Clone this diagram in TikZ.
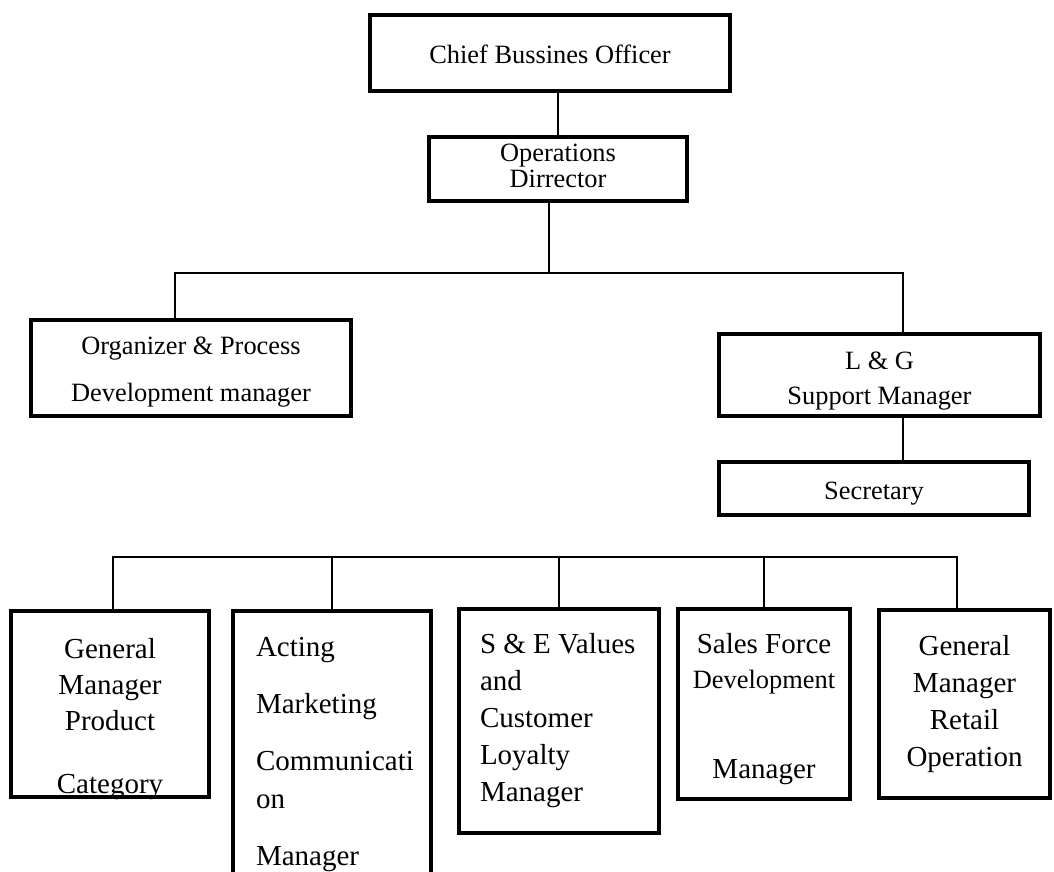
\documentclass[tikz,border=0pt]{standalone}
\usepackage{fontspec}
\setmainfont{Liberation Serif}

\tikzset{
	post/.style={draw, line width=4pt, inner sep=0pt},
	link/.style={line width=1.2pt},
}

\begin{document}
\begin{tikzpicture}[x=1pt, y=-1pt]
			\useasboundingbox (0,0) rectangle (1054,872);
			\clip (0,0) rectangle (1054,872);
			
			\node[post] (cbo) at (550,53) {\parbox[c][76pt][t]{360pt}{\centering\fontsize{26.4}{26}\selectfont\vspace*{30pt}Chief Bussines Officer}};
			\node[post] (od) at (558,169) {\parbox[c][64pt][t]{258pt}{\centering\fontsize{26.4}{26}\selectfont\vspace*{7pt}Operations\\Dirrector}};
			\node[post] (opd) at (191,368) {\parbox[c][96pt][t]{320pt}{\centering\fontsize{26.4}{47}\selectfont\vspace*{17pt}Organizer \& Process\\Development manager}};
			\node[post] (lgs) at (879.5,375) {\parbox[c][82pt][t]{321pt}{\centering\fontsize{26.4}{35}\selectfont\vspace*{18pt}L \& G\\Support Manager}};
			\node[post] (sec) at (874,488.5) {\parbox[c][53pt][t]{310pt}{\centering\fontsize{26.4}{30}\selectfont\vspace*{20pt}Secretary}};
			
			\node[post] (gmpc) at (110,704) {\parbox[c][186pt][t]{198pt}{\centering\fontsize{29}{36}\selectfont\vspace*{27pt}General\\Manager\\Product\\[27pt]Category}};
			\node[post] (amc) at (332,754.5) {\parbox[c][287pt][t]{198pt}{\raggedright\leftskip=23pt\fontsize{29}{38}\selectfont\vspace*{26pt}Acting\\[19pt]Marketing\\[19pt]Communicati\\on\\[19pt]Manager}};
			\node[post] (sev) at (559,721) {\parbox[c][224pt][t]{200pt}{\raggedright\leftskip=21pt\fontsize{29}{37}\selectfont\vspace*{24pt}S \& E Values\\and\\Customer\\Loyalty\\Manager}};
			\node[post] (sfd) at (764,704) {\parbox[c][190pt][t]{172pt}{\centering\fontsize{29}{35}\selectfont\vspace*{24pt}Sales Force\\{\fontsize{26.4}{35}\selectfont Development}\\[55pt]Manager}};
			\node[post] (gmro) at (964.5,704) {\parbox[c][188pt][t]{171pt}{\centering\fontsize{29}{37}\selectfont\vspace*{25pt}General\\Manager\\Retail\\Operation}};
			
			\coordinate (jl) at (175,273);
			\coordinate (jm) at (549,273);
			\coordinate (jr) at (903,273);
			\coordinate (bl) at (113,557);
			\coordinate (br) at (957,557);
			
			\draw[link] (od.north) -- (od.north |- cbo.south);
			\draw[link] (od.south -| jm) -- (jm);
			\draw[link] (opd.north -| jl) -- (jl) -- (jr) -- (lgs.north -| jr);
			\draw[link] (lgs.south -| jr) -- (sec.north -| jr);
			\draw[link] (gmpc.north -| bl) -- (bl) -- (br) -- (gmro.north -| br);
			\draw[link] (amc.north) -- (amc.north |- bl);
			\draw[link] (sev.north) -- (sev.north |- bl);
			\draw[link] (sfd.north) -- (sfd.north |- bl);
\end{tikzpicture}
\end{document}
